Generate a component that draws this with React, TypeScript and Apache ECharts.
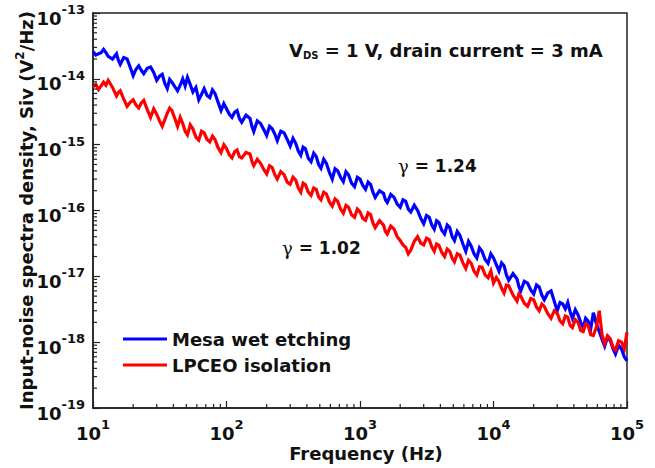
import React, { useEffect, useRef } from 'react';
import * as echarts from 'echarts';

const FONT = '"DejaVu Sans", "Liberation Sans", sans-serif';
const INK = '#111';

const freqs = [
  10, 10.5, 11, 11.5, 12, 12.5, 13, 14, 15, 15.5, 16, 17, 18, 19, 20, 21, 22, 23, 24, 25.5, 27, 28.5, 30, 31.5,
  33, 34.5, 36, 37.5, 39, 41, 43, 45, 47, 49, 51, 53.5, 56, 59, 62, 65, 68, 71.5, 75, 78.5, 82, 86.5, 91, 95.5,
  100, 105, 110, 115, 120, 125, 130, 140, 150, 155, 160, 170, 180, 190, 200, 210, 220, 230, 240, 255, 270, 285, 300, 315,
  330, 345, 360, 375, 390, 410, 430, 450, 470, 490, 510, 535, 560, 590, 620, 650, 680, 715, 750, 785, 820, 865, 910, 955,
  1000, 1050, 1100, 1150, 1200, 1250, 1300, 1400, 1500, 1550, 1600, 1700, 1800, 1900, 2000, 2100, 2200, 2300, 2400, 2550, 2700, 2850, 3000, 3150,
  3300, 3450, 3600, 3750, 3900, 4100, 4300, 4500, 4700, 4900, 5100, 5350, 5600, 5900, 6200, 6500, 6800, 7150, 7500, 7850, 8200, 8650, 9100, 9550,
  10000, 10500, 11000, 11500, 12000, 12500, 13000, 14000, 15000, 15500, 16000, 17000, 18000, 19000, 20000, 21000, 22000, 23000, 24000, 25500, 27000, 28500, 30000, 31500,
  33000, 34500, 36000, 37500, 39000, 41000, 43000, 45000, 47000, 49000, 51000, 53500, 56000, 59000, 62000, 65000, 68000, 71500, 75000, 78500, 82000, 86500, 91000, 95500,
  100000,
];

const mesaWetEtching = [
  2.6e-14, 2.3e-14, 2.4e-14, 2.5e-14, 2.8e-14, 2.5e-14, 2.2e-14, 2.0e-14, 2.4e-14, 1.9e-14, 1.66e-14, 2.1e-14, 2.0e-14, 1.5e-14, 1.12e-14, 1.4e-14, 1.58e-14, 1.35e-14, 1.2e-14, 1.45e-14, 1.51e-14, 1.25e-14, 9.5e-15, 1.1e-14,
  1.17e-14, 8.5e-15, 7.1e-15, 9.8e-15, 8.9e-15, 7.6e-15, 6.6e-15, 8.0e-15, 1.0e-14, 7.8e-15, 1.05e-14, 8.2e-15, 6.3e-15, 7.4e-15, 4.8e-15, 5.8e-15, 7.1e-15, 5.6e-15, 5.2e-15, 6.8e-15, 6.0e-15, 4.4e-15, 3.3e-15, 4.2e-15,
  3.5e-15, 2.9e-15, 2.6e-15, 3.1e-15, 3.3e-15, 2.5e-15, 2.2e-15, 2.8e-15, 2.5e-15, 1.9e-15, 1.58e-15, 2.3e-15, 2.1e-15, 1.7e-15, 1.38e-15, 1.9e-15, 1.74e-15, 1.45e-15, 1.15e-15, 1.6e-15, 1.51e-15, 1.2e-15, 9.5e-16, 1.25e-15,
  1.05e-15, 8.0e-16, 6.9e-16, 9.2e-16, 8.7e-16, 6.2e-16, 5.5e-16, 7.4e-16, 6.6e-16, 5.0e-16, 4.4e-16, 6.0e-16, 5.2e-16, 3.8e-16, 3.0e-16, 4.3e-16, 4.0e-16, 3.2e-16, 2.75e-16, 3.9e-16, 3.5e-16, 2.6e-16, 2.3e-16, 3.2e-16,
  3.0e-16, 2.4e-16, 2.1e-16, 2.7e-16, 2.5e-16, 1.9e-16, 1.58e-16, 2.0e-16, 1.82e-16, 1.45e-16, 1.32e-16, 1.75e-16, 1.58e-16, 1.25e-16, 1.12e-16, 1.45e-16, 1.38e-16, 1.05e-16, 9.5e-17, 1.2e-16, 1.0e-16, 7.6e-17, 6.3e-17, 8.4e-17,
  7.9e-17, 6.0e-17, 5.2e-17, 7.0e-17, 6.6e-17, 5.0e-17, 4.4e-17, 6.0e-17, 5.5e-17, 4.0e-17, 3.5e-17, 4.8e-17, 4.2e-17, 3.1e-17, 2.4e-17, 3.4e-17, 2.9e-17, 2.2e-17, 1.9e-17, 2.7e-17, 2.4e-17, 1.8e-17, 1.58e-17, 2.2e-17,
  1.9e-17, 1.5e-17, 1.2e-17, 1.6e-17, 1.45e-17, 1.05e-17, 8.7e-18, 1.1e-17, 9.1e-18, 7.0e-18, 6.0e-18, 8.4e-18, 7.9e-18, 6.2e-18, 5.4e-18, 7.4e-18, 6.9e-18, 5.2e-18, 4.4e-18, 5.6e-18, 6.0e-18, 4.2e-18, 3.0e-18, 4.0e-18,
  3.8e-18, 3.2e-18, 4.0e-18, 2.9e-18, 2.3e-18, 3.1e-18, 2.6e-18, 2.0e-18, 1.66e-18, 2.3e-18, 2.1e-18, 1.6e-18, 2.8e-18, 1.9e-18, 1.45e-18, 1.1e-18, 8.7e-19, 1.2e-18, 1.05e-18, 8.0e-19, 6.6e-19, 9.0e-19, 7.9e-19, 6.0e-19,
  5.2e-19,
];

const lpceoIsolation = [
  7.6e-15, 8.2e-15, 6.9e-15, 7.8e-15, 8.9e-15, 8.0e-15, 9.5e-15, 7.4e-15, 5.5e-15, 6.2e-15, 6.6e-15, 4.9e-15, 3.8e-15, 4.4e-15, 4.8e-15, 4.0e-15, 3.6e-15, 4.3e-15, 4.7e-15, 3.4e-15, 2.6e-15, 3.5e-15, 2.9e-15, 2.3e-15,
  1.9e-15, 2.4e-15, 3.0e-15, 3.6e-15, 3.3e-15, 2.5e-15, 1.9e-15, 2.6e-15, 2.1e-15, 1.6e-15, 1.41e-15, 2.0e-15, 1.74e-15, 1.3e-15, 1.17e-15, 1.6e-15, 1.51e-15, 1.2e-15, 1.1e-15, 1.35e-15, 1.2e-15, 9.0e-16, 7.6e-16, 1.0e-15,
  8.7e-16, 7.0e-16, 6.3e-16, 7.8e-16, 8.3e-16, 6.6e-16, 6.3e-16, 7.6e-16, 7.2e-16, 5.6e-16, 4.8e-16, 6.0e-16, 5.2e-16, 4.2e-16, 3.6e-16, 4.8e-16, 4.5e-16, 3.5e-16, 3.0e-16, 3.9e-16, 3.5e-16, 2.7e-16, 2.5e-16, 3.2e-16,
  2.9e-16, 2.2e-16, 1.9e-16, 2.6e-16, 2.45e-16, 1.9e-16, 1.7e-16, 2.2e-16, 2.1e-16, 1.6e-16, 1.45e-16, 1.9e-16, 1.78e-16, 1.35e-16, 1.17e-16, 1.5e-16, 1.38e-16, 1.05e-16, 9.1e-17, 1.2e-16, 1.12e-16, 8.6e-17, 7.9e-17, 1.05e-16,
  9.5e-17, 7.6e-17, 7.1e-17, 9.2e-17, 8.7e-17, 6.5e-17, 5.5e-17, 7.0e-17, 6.0e-17, 4.8e-17, 4.4e-17, 5.8e-17, 5.2e-17, 4.0e-17, 3.5e-17, 3.0e-17, 2.75e-17, 2.2e-17, 2.5e-17, 3.4e-17, 4.0e-17, 3.2e-17, 3.0e-17, 3.8e-17,
  3.6e-17, 2.8e-17, 2.4e-17, 3.1e-17, 2.95e-17, 2.3e-17, 2.0e-17, 2.6e-17, 2.4e-17, 1.9e-17, 1.66e-17, 2.2e-17, 2.1e-17, 1.6e-17, 1.32e-17, 1.75e-17, 1.58e-17, 1.2e-17, 1.05e-17, 1.4e-17, 1.38e-17, 1.05e-17, 9.5e-18, 1.2e-17,
  7.9e-18, 9.6e-18, 8.3e-18, 6.6e-18, 5.6e-18, 7.4e-18, 7.2e-18, 5.2e-18, 4.2e-18, 5.4e-18, 5.0e-18, 3.9e-18, 3.5e-18, 4.6e-18, 4.4e-18, 3.4e-18, 3.0e-18, 3.8e-18, 3.5e-18, 2.7e-18, 2.3e-18, 3.0e-18, 2.75e-18, 2.1e-18,
  1.9e-18, 2.5e-18, 2.4e-18, 1.8e-18, 1.66e-18, 2.2e-18, 2.0e-18, 1.5e-18, 1.45e-18, 1.9e-18, 1.82e-18, 1.3e-18, 1.26e-18, 1.7e-18, 3.0e-18, 1.3e-18, 9.5e-19, 1.25e-18, 1.12e-18, 8.4e-19, 7.6e-19, 1.05e-18, 1.0e-18, 8.0e-19,
  1.41e-18,
];

const seriesNames = ['Mesa wet etching', 'LPCEO isolation'];
const seriesColors = ['#0000ff', '#ff0000'];
const xRange = [10, 100000];
const yRange = [1e-19, 1e-13];
const xDecades = [10, 100, 1000, 10000];
const yDecades = [1e-19, 1e-18, 1e-17, 1e-16, 1e-15, 1e-14];
const minorSteps = [2, 3, 4, 5, 6, 7, 8, 9];

export default function App() {
  const ref = useRef<HTMLDivElement>(null);

  useEffect(() => {
    const chart = echarts.init(ref.current as HTMLDivElement, null, { renderer: 'svg' });

    const supRich = {
      b: { fontSize: 18, fontWeight: 'bold', fontFamily: FONT, color: INK, lineHeight: 30 },
      s: { fontSize: 13, fontWeight: 'bold', fontFamily: FONT, color: INK, lineHeight: 12, verticalAlign: 'top' },
    };
    const fmt = (v: number) => `{b|10}{s|${Math.round(Math.log10(v))}}`;

    const minorX: number[][] = [];
    xDecades.forEach((d) => minorSteps.forEach((k) => minorX.push([k * d, yRange[0]])));
    const minorY: number[][] = [];
    yDecades.forEach((d) => minorSteps.forEach((k) => minorY.push([xRange[0], k * d])));

    const gammaRich = { g: { fontSize: 18, fontWeight: 'normal', fontFamily: '"DejaVu Serif", serif', fill: INK, lineHeight: 20 } };

    const option: any = {
      animation: false,
      backgroundColor: '#fff',
      grid: {
        left: 93,
        right: 28,
        top: 13,
        bottom: 60,
        show: true,
        borderColor: '#222',
        borderWidth: 1.5,
      },
      legend: {
        data: seriesNames,
        orient: 'vertical',
        left: 118,
        top: 325,
        itemWidth: 44,
        itemHeight: 3,
        itemGap: 8,
        icon: 'rect',
        textStyle: { fontSize: 18, fontWeight: 'bold', fontFamily: FONT, color: INK },
      },
      xAxis: {
        type: 'log',
        logBase: 10,
        min: xRange[0],
        max: xRange[1],
        splitNumber: 4,
        name: 'Frequency (Hz)',
        nameLocation: 'middle',
        nameGap: 36,
        nameMoveOverlap: false,
        nameTextStyle: { fontSize: 18, fontWeight: 'bold', fontFamily: FONT, color: INK, padding: [0, 0, 0, 12] },
        axisLine: { lineStyle: { color: '#222', width: 1.5 } },
        axisTick: { inside: true, length: 7, lineStyle: { color: '#222', width: 1.2 } },
        splitLine: { show: false },
        minorTick: { show: false },
        axisLabel: { margin: 10, formatter: fmt, rich: supRich },
      },
      yAxis: {
        type: 'log',
        logBase: 10,
        min: yRange[0],
        max: yRange[1],
        splitNumber: 6,
        name: 'Input-noise spectra density, Siv (V{s|2}/Hz)',
        nameLocation: 'middle',
        nameGap: 55,
        nameMoveOverlap: false,
        nameRotate: 90,
        nameTextStyle: {
          fontSize: 18,
          fontWeight: 'bold',
          fontFamily: FONT,
          color: INK,
          lineHeight: 24,
          rich: { s: { fontSize: 12, fontWeight: 'bold', fontFamily: FONT, color: INK, lineHeight: 12, verticalAlign: 'top' } },
        },
        axisLine: { lineStyle: { color: '#222', width: 1.5 } },
        axisTick: { inside: true, length: 7, lineStyle: { color: '#222', width: 1.2 } },
        splitLine: { show: false },
        axisLabel: { margin: 8, formatter: fmt, rich: supRich, padding: [10, 0, 0, 0] },
      },
      graphic: [
        {
          type: 'text',
          left: 289,
          top: 40,
          style: {
            text: 'V{sub|DS} = 1 V, drain current = 3 mA',
            fontSize: 18,
            fontWeight: 'bold',
            fontFamily: FONT,
            fill: INK,
            lineHeight: 20,
            rich: { sub: { fontSize: 10, fontWeight: 'bold', fontFamily: FONT, fill: INK, lineHeight: 8, verticalAlign: 'bottom' } },
          },
        },
        {
          type: 'text',
          left: 398,
          top: 156,
          style: { text: '{g|γ} = 1.24', fontSize: 17, fontWeight: 'bold', fontFamily: FONT, fill: INK, lineHeight: 20, rich: gammaRich },
        },
        {
          type: 'text',
          left: 282,
          top: 238,
          style: { text: '{g|γ} = 1.02', fontSize: 17, fontWeight: 'bold', fontFamily: FONT, fill: INK, lineHeight: 20, rich: gammaRich },
        },
      ],
      series: [
        {
          name: seriesNames[0],
          type: 'line',
          data: freqs.map((f, i) => [f, mesaWetEtching[i]]),
          showSymbol: false,
          lineStyle: { color: seriesColors[0], width: 3.2, join: 'miter' },
          itemStyle: { color: seriesColors[0] },
          z: 3,
        },
        {
          name: seriesNames[1],
          type: 'line',
          data: freqs.map((f, i) => [f, lpceoIsolation[i]]),
          showSymbol: false,
          lineStyle: { color: seriesColors[1], width: 3.2, join: 'miter' },
          itemStyle: { color: seriesColors[1] },
          z: 4,
        },
        {
          type: 'custom',
          silent: true,
          data: minorX,
          renderItem: (params: any, api: any) => {
            const p = api.coord([api.value(0), api.value(1)]);
            return { type: 'line', shape: { x1: p[0], y1: p[1], x2: p[0], y2: p[1] - 4 }, style: { stroke: '#222', lineWidth: 1.2 } };
          },
          z: 5,
        },
        {
          type: 'custom',
          silent: true,
          data: minorY,
          renderItem: (params: any, api: any) => {
            const p = api.coord([api.value(0), api.value(1)]);
            return { type: 'line', shape: { x1: p[0], y1: p[1], x2: p[0] + 4, y2: p[1] }, style: { stroke: '#222', lineWidth: 1.2 } };
          },
          z: 5,
        },
      ],
    };

    chart.setOption(option);
    return () => chart.dispose();
  }, []);

  return <div ref={ref} style={{ position: 'fixed', left: 0, top: 0, width: 655, height: 468, background: '#fff' }} />;
}
